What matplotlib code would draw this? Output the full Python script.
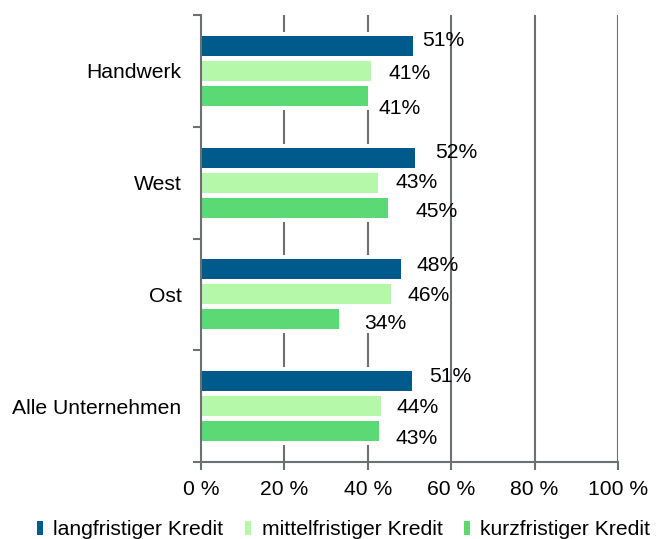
import numpy as np
import matplotlib.pyplot as plt

plt.rcParams['font.family'] = ['Liberation Sans', 'DejaVu Sans']

# Data ######################################################################
categories = ["Handwerk", "West", "Ost", "Alle Unternehmen"]
series = ["langfristiger Kredit", "mittelfristiger Kredit", "kurzfristiger Kredit"]
lang = [50.8, 51.3, 48.0, 50.6]
mittel = [40.8, 42.4, 45.6, 43.2]
kurz = [40.0, 44.8, 33.1, 42.7]
label_lang = ["51%", "52%", "48%", "51%"]
label_mittel = ["41%", "43%", "46%", "44%"]
label_kurz = ["41%", "45%", "34%", "43%"]

# Label placement (hand-placed in the original), x in % and y shift in category units
label_x = [[58.0, 50.1, 47.7], [61.2, 51.6, 56.6], [56.8, 54.7, 44.1], [59.7, 52.0, 51.8]]
label_dy = [[-0.045, 0.02, 0.11], [-0.045, 0.0, 0.03], [-0.035, 0.01, 0.035], [-0.045, 0.01, 0.07]]

colors = ["#005A8B", "#B5F8AA", "#5AD975"]
grid_col = "#6D7073"
fs = 15.2

values = [lang, mittel, kurz]
labels = [label_lang, label_mittel, label_kurz]

# Plot ######################################################################
fig = plt.figure(figsize=(6.67, 5.39), dpi=100)
ax = fig.add_axes([201 / 667, 1 - 462 / 539, 417 / 667, 447 / 539])

y = np.arange(len(categories))
step, h = 0.224, 0.18

# gridlines, hidden behind the bar groups like in the original
for gx in [20, 40, 60, 80, 100]:
    ax.axvline(gx, color=grid_col, lw=1.5, zorder=1)
ax.barh(y, np.max(values, axis=0), height=0.70, color="white", zorder=1.5)

for i, (vals, col, name) in enumerate(zip(values, colors, series)):
    ax.barh(y + (i - 1) * step, vals, height=h, color=col, label=name, zorder=2)
    for j in range(len(categories)):
        ax.text(label_x[j][i], y[j] + (i - 1) * step + label_dy[j][i], labels[i][j],
                ha="center", va="center", fontsize=fs, zorder=3)

ax.set_xlim(0, 100)
ax.set_ylim(3.5, -0.5)
ax.set_xticks([0, 20, 40, 60, 80, 100])
ax.set_xticklabels(["0 %", "20 %", "40 %", "60 %", "80 %", "100 %"], fontsize=fs)
ax.set_yticks(y)
ax.set_yticklabels(categories, fontsize=fs)
ax.set_yticks([-0.5, 0.5, 1.5, 2.5, 3.5], minor=True)
ax.tick_params(axis="y", which="major", length=0, pad=14)
ax.tick_params(axis="y", which="minor", length=6, width=1.5, color=grid_col)
ax.tick_params(axis="x", length=6, width=1.5, color=grid_col, pad=7)

for s in ["top", "right"]:
    ax.spines[s].set_visible(False)
for s in ["left", "bottom"]:
    ax.spines[s].set_color(grid_col)
    ax.spines[s].set_linewidth(1.5)
    ax.spines[s].set_zorder(4)

leg = fig.legend(loc="lower center", bbox_to_anchor=(0.515, -0.036), ncol=3, frameon=False,
                 fontsize=fs, handlelength=0.3, handleheight=0.6, handletextpad=0.5,
                 columnspacing=1.0)

fig.savefig("out.png", dpi=100)
